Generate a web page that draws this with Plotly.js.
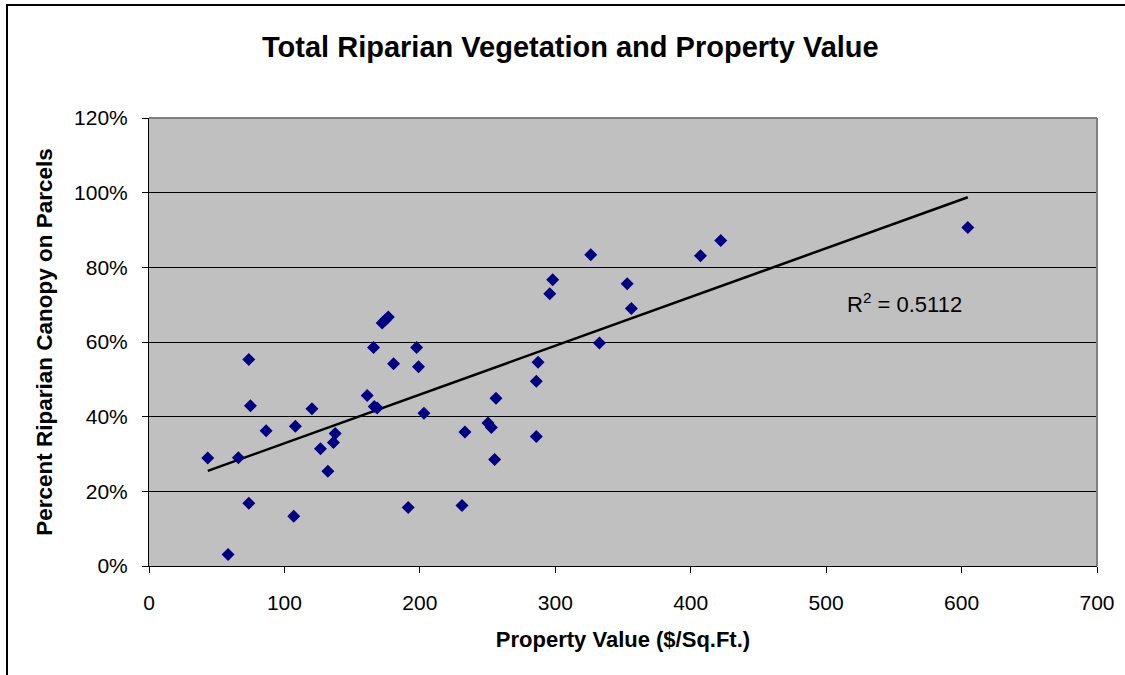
<!DOCTYPE html>
<html>
<head>
<meta charset="utf-8">
<script src="https://cdn.plot.ly/plotly-3.0.1.min.js"></script>
<style>
  html, body { margin: 0; padding: 0; background: #fff; }
  #wrap { position: relative; width: 1125px; height: 675px; overflow: hidden; }
  #frame { position: absolute; left: 6px; top: 4px; width: 1200px; height: 800px;
           border-left: 2px solid #000; border-top: 2px solid #000; pointer-events: none; }
  #chart { position: absolute; left: 0; top: 0; width: 1125px; height: 675px; }
</style>
</head>
<body>
<div id="wrap">
  <div id="chart"></div>
  <div id="frame"></div>
</div>
<script>
// Property value ($/sq.ft.)
const propertyValue = [
  43.4, 58.4, 66.0, 73.7, 74.9, 73.7, 86.5, 106.9, 108.1, 120.3,
  126.6, 132.1, 136.2, 137.5, 161.1, 165.8, 166.3, 168.5, 172.2, 174.5,
  176.7, 180.6, 191.4, 197.6, 199.0, 203.0, 231.1, 233.3, 250.3, 252.8,
  256.2, 255.2, 286.0, 286.0, 287.3, 295.9, 298.1, 326.2, 332.6, 353.1,
  356.2, 407.2, 422.2, 604.6
];
// Percent riparian canopy on parcels (%)
const canopyPercent = [
  28.9, 3.1, 29.0, 55.3, 42.9, 16.8, 36.2, 13.3, 37.4, 42.1,
  31.4, 25.4, 33.1, 35.5, 45.7, 58.5, 42.7, 42.3, 65.1, 65.9,
  66.7, 54.2, 15.7, 58.5, 53.4, 40.9, 16.2, 35.9, 38.3, 37.1,
  44.9, 28.5, 34.7, 49.5, 54.6, 72.9, 76.7, 83.4, 59.7, 75.6,
  69.0, 83.1, 87.2, 90.7
];
const xTickVals = [0, 100, 200, 300, 400, 500, 600, 700];
const yTickVals = [0, 20, 40, 60, 80, 100, 120];
const rSquaredLabel = 'R<sup>2</sup> = 0.5112';

// Linear least-squares trendline from the data
const n = propertyValue.length;
const mx = propertyValue.reduce((a, b) => a + b, 0) / n;
const my = canopyPercent.reduce((a, b) => a + b, 0) / n;
let sxy = 0, sxx = 0;
for (let i = 0; i < n; i++) {
  sxy += (propertyValue[i] - mx) * (canopyPercent[i] - my);
  sxx += (propertyValue[i] - mx) ** 2;
}
const slope = sxy / sxx;
const intercept = my - slope * mx;
const xMin = Math.min(...propertyValue), xMax = Math.max(...propertyValue);
const trendX = [xMin, xMax];
const trendY = trendX.map(v => intercept + slope * v);

const font = 'Arial, "Liberation Sans", Helvetica, sans-serif';

const traces = [
  {
    x: trendX, y: trendY, type: 'scatter', mode: 'lines',
    line: { color: '#000000', width: 2.5 }, hoverinfo: 'skip', showlegend: false
  },
  {
    x: propertyValue, y: canopyPercent, type: 'scatter', mode: 'markers',
    marker: { symbol: 'diamond', size: 10, color: '#000080', line: { width: 0 } },
    showlegend: false
  }
];

const layout = {
  width: 1125, height: 675,
  paper_bgcolor: 'rgba(0,0,0,0)',
  plot_bgcolor: '#C0C0C0',
  margin: { l: 149, r: 28, t: 118, b: 109 },
  font: { family: font, color: '#000', size: 21 },
  title: {
    text: '<b>Total Riparian Vegetation and Property Value</b>',
    font: { family: font, size: 29, color: '#000' },
    x: 0.507, xanchor: 'center', y: 0.93, yanchor: 'middle'
  },
  xaxis: {
    range: [0, 700], tickvals: xTickVals, ticktext: xTickVals.map(String),
    showgrid: false, zeroline: false,
    showline: true, linecolor: '#000', linewidth: 1,
    ticks: 'outside', ticklen: 6, tickcolor: '#000', tickwidth: 1,
    ticklabelstandoff: 12,
    tickfont: { family: font, size: 21 },
    title: { text: '<b>Property Value ($/Sq.Ft.)</b>', font: { family: font, size: 22 }, standoff: 18 }
  },
  yaxis: {
    range: [0, 120], tickvals: yTickVals, ticktext: yTickVals.map(v => v + '%'),
    showgrid: true, gridcolor: '#000', gridwidth: 1, zeroline: false,
    showline: true, linecolor: '#000', linewidth: 1,
    ticks: 'outside', ticklen: 6, tickcolor: '#000', tickwidth: 1,
    ticklabelstandoff: 10,
    tickfont: { family: font, size: 21 },
    title: { text: '<b>Percent Riparian Canopy on Parcels</b>', font: { family: font, size: 22.5 }, standoff: 15 }
  },
  shapes: [
    { type: 'line', xref: 'paper', yref: 'paper', x0: 0, x1: 1, y0: 1, y1: 1,
      line: { color: '#808080', width: 2 }, layer: 'above' },
    { type: 'line', xref: 'paper', yref: 'paper', x0: 1, x1: 1, y0: 0, y1: 1,
      line: { color: '#808080', width: 2 }, layer: 'above' }
  ],
  annotations: [
    { x: 558, y: 70.5, xref: 'x', yref: 'y', text: rSquaredLabel, showarrow: false,
      font: { family: font, size: 22, color: '#000' }, xanchor: 'center', yanchor: 'middle' }
  ]
};

Plotly.newPlot('chart', traces, layout, { displayModeBar: false, staticPlot: true });
</script>
</body>
</html>
